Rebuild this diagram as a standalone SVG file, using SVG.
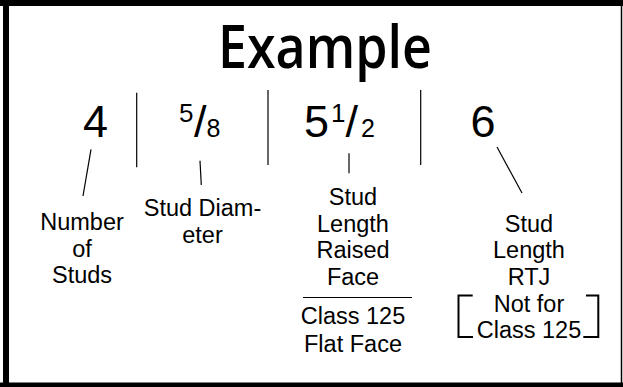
<svg xmlns="http://www.w3.org/2000/svg" width="623" height="387" viewBox="0 0 623 387">
<style>
  .lbl { font-family: "Liberation Sans", Arial, sans-serif; font-size: 23.5px; fill: #000; text-anchor: middle; }
  .big { font-family: "Liberation Sans", Arial, sans-serif; font-size: 45px; fill: #000; }
  .sup { font-size: 26px; }
  .sub { font-size: 25px; }
  .sl { font-size: 45px; }
  .ln { stroke: #000; stroke-width: 1.2; fill: none; }
  .br { stroke: #000; stroke-width: 2; fill: none; }
</style>
<rect x="0" y="0" width="623" height="387" fill="#fff"/>
<g id="frame">
  <line x1="6" y1="0" x2="6" y2="387" stroke="#000" stroke-width="6"/>
  <line x1="0" y1="3" x2="623" y2="3" stroke="#000" stroke-width="6"/>
  <line x1="0" y1="385" x2="623" y2="385" stroke="#000" stroke-width="5"/>
  <line x1="621.5" y1="0" x2="621.5" y2="387" stroke="#000" stroke-width="1.5"/>
</g>
<g id="title">
  <text x="325" y="67.5" font-family="'Comic Sans MS', 'Open Sans', sans-serif" font-weight="600" font-size="60" text-anchor="middle" textLength="214" lengthAdjust="spacingAndGlyphs">Example</text>
</g>
<g id="num-4">
  <text class="big" x="95.5" y="137" text-anchor="middle">4</text>
</g>
<g id="num-5-8">
  <text class="big" x="179" y="121.7"><tspan class="sup">5</tspan><tspan class="sl" dx="0.5" dy="15.3">/</tspan><tspan class="sub">8</tspan></text>
</g>
<g id="num-5-1-2">
  <text class="big" x="304" y="137">5<tspan class="sup" dx="2" dy="-15.3">1</tspan><tspan class="sl" dy="15.3">/</tspan><tspan class="sub" dx="3">2</tspan></text>
</g>
<g id="num-6">
  <text class="big" x="483" y="137" text-anchor="middle">6</text>
</g>
<g id="label-number">
  <text class="lbl" x="82" y="230">Number</text>
  <text class="lbl" x="82" y="256.7">of</text>
  <text class="lbl" x="82" y="283.3">Studs</text>
</g>
<g id="label-diameter">
  <text class="lbl" x="202.5" y="216">Stud Diam-</text>
  <text class="lbl" x="202.5" y="242.7">eter</text>
</g>
<g id="label-length-rf">
  <text class="lbl" x="353" y="205">Stud</text>
  <text class="lbl" x="353" y="231.7">Length</text>
  <text class="lbl" x="353" y="258.3">Raised</text>
  <text class="lbl" x="353" y="285">Face</text>
  <line x1="303" y1="297.5" x2="412" y2="297.5" stroke="#000" stroke-width="1.2"/>
  <text class="lbl" x="353" y="324">Class 125</text>
  <text class="lbl" x="353" y="351.7">Flat Face</text>
</g>
<g id="label-length-rtj">
  <text class="lbl" x="529" y="231.7">Stud</text>
  <text class="lbl" x="529" y="258.3">Length</text>
  <text class="lbl" x="529" y="285">RTJ</text>
  <text class="lbl" x="529" y="311.7">Not for</text>
  <text class="lbl" x="529" y="338.3">Class 125</text>
  <path class="br" d="M472.7,295.5 H458.5 V337 H473"/>
  <path class="br" d="M586,295.5 H598.3 V337 H583.3"/>
</g>
<g id="connectors">
  <line class="ln" x1="136.7" y1="92.7" x2="136.7" y2="167.3"/>
  <line class="ln" x1="268" y1="90" x2="268" y2="165"/>
  <line class="ln" x1="420.7" y1="90" x2="420.7" y2="165"/>
  <line class="ln" x1="91" y1="149.3" x2="83" y2="196"/>
  <line class="ln" x1="200" y1="160.7" x2="201.3" y2="185"/>
  <line class="ln" x1="349" y1="153.3" x2="349" y2="173.3"/>
  <line class="ln" x1="497" y1="147" x2="522" y2="193"/>
</g>
</svg>
